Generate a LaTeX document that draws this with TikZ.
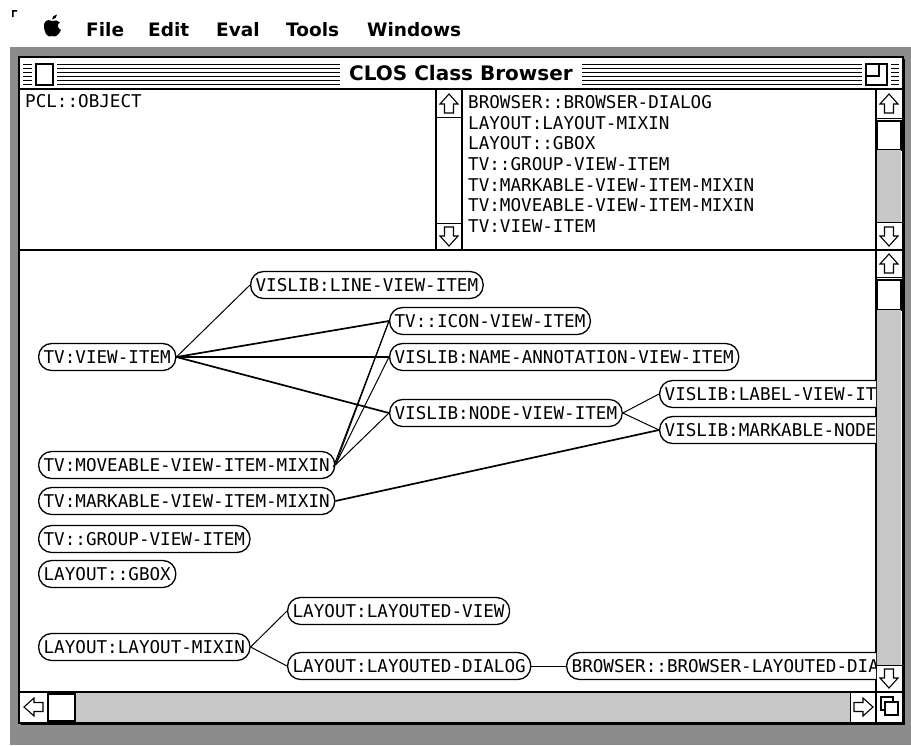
\documentclass[tikz,border=0pt]{standalone}
\usepackage{fontspec}
\setmonofont{DejaVu Sans Mono}
\newfontfamily\chicago{DejaVu Sans}
\usetikzlibrary{calc,positioning}

\definecolor{desk}{gray}{0.55}
\definecolor{sbar}{gray}{0.78}

\begin{document}
\begin{tikzpicture}[x=1pt,y=-1pt]
  \tikzset{cls/.style={draw, fill=white, line width=1.3pt,
      rounded corners=13pt, minimum height=27pt,
      inner xsep=5pt, inner ysep=0pt,
      font=\ttfamily\fontsize{17.6}{20}\selectfont},
    cut/.style={cls, text width=#1, align=left},
    lst/.style={inner sep=0pt, font=\ttfamily\fontsize{17.6}{20}\selectfont},
    menu/.style={inner sep=0pt, font=\chicago\bfseries\fontsize{18.5}{20}\selectfont},
    link/.style={line width=1pt},
    linkb/.style={line width=1.7pt},
    arrup/.pic={\draw[line width=1.1pt, fill=white, line join=miter]
        (0,-10) -- (9,0) -- (4.5,0) -- (4.5,9) -- (-4.5,9) -- (-4.5,0) -- (-9,0) -- cycle;}}
  \useasboundingbox (0,0) rectangle (911,745);

  % menu bar
  \fill (12,10) -- (17,10) -- (17,11.5) -- (14,11.5) -- (13.5,12.5) -- (13.5,17) -- (12,17) -- cycle;
  \fill (52,21) .. controls (47,18) and (43,22) .. (44,28) .. controls (45,34) and (48,38) .. (52,36)
    .. controls (56,38) and (59,34) .. (61,30) .. controls (57,28) and (57,24) .. (60,22.5)
    .. controls (58,20) and (55,20) .. (52,21) -- cycle;
  \fill (52,19.5) .. controls (52,17) and (54,15) .. (57,14.5) .. controls (57,17) and (55,19.5) .. (52,19.5) -- cycle;
  \node[menu, anchor=base west] (mfile) at (86,36) {File};
  \node[menu, anchor=base west] (medit) at (148,36) {Edit};
  \node[menu, anchor=base west] (meval) at (216,36) {Eval};
  \node[menu, anchor=base west] (mtools) at (286,36) {Tools};
  \node[menu, anchor=base west] (mwin) at (367,36) {Windows};

  % desktop and window
  \fill[desk] (10,47) rectangle (911,745);
  \fill (21,59) rectangle (905,725);
  \draw[fill=white, line width=1.5pt] (19,57) rectangle (903,723);

  % title bar
  \foreach \y in {64,68,...,84}
    \draw[line width=1pt] (23,\y) -- (899,\y);
  \fill[white] (32,61) rectangle (57,88);
  \draw[line width=1.3pt] (36,64) rectangle (53,85);
  \fill[white] (862,61) rectangle (891,88);
  \draw[line width=1.3pt] (866,64) rectangle (887,85);
  \draw[line width=1.3pt] (866,76) -- (879,76) -- (879,64);
  \node[fill=white, inner xsep=9pt, minimum height=26pt,
    font=\chicago\bfseries\fontsize{20}{22}\selectfont] (title) at (461,73) {CLOS Class Browser};
  \draw[line width=1.3pt] (19,89) -- (903,89);

  % upper panes
  \node[lst, anchor=west] (pclobj) at (25,101) {PCL::OBJECT};
  \draw[line width=1.3pt] (436,89) -- (436,250);
  \draw[line width=1.3pt] (462,89) -- (462,250);
  \draw (436,117) -- (462,117);
  \draw (436,223) -- (462,223);
  \pic at (449,104) {arrup};
  \pic[rotate=180] at (449,236) {arrup};
  \foreach \t [count=\i] in {BROWSER::BROWSER-DIALOG, LAYOUT:LAYOUT-MIXIN, LAYOUT::GBOX,
      TV::GROUP-VIEW-ITEM, TV:MARKABLE-VIEW-ITEM-MIXIN, TV:MOVEABLE-VIEW-ITEM-MIXIN, TV:VIEW-ITEM}
    \node[lst, anchor=west] (item\i) at (468,{81.3+20.7*\i}) {\t};
  \draw[line width=1.3pt] (876,89) -- (876,250);
  \draw (876,118) -- (902,118);
  \draw[line width=1.6pt, fill=white] (877,121) rectangle (901,150);
  \fill[sbar] (877,150) rectangle (901,222);
  \draw (876,222) -- (902,222);
  \pic at (889,104) {arrup};
  \pic[rotate=180] at (889,236) {arrup};
  \draw[line width=2pt] (19,250) -- (903,250);

  % scroll bars of the graph pane
  \draw[line width=1.3pt] (876,250) -- (876,722);
  \draw (876,277) -- (902,277);
  \draw[line width=1.6pt, fill=white] (877,280) rectangle (901,310);
  \fill[sbar] (877,310) rectangle (901,665);
  \draw (876,665) -- (902,665);
  \pic at (889,264) {arrup};
  \pic[rotate=180] at (889,678) {arrup};
  \draw[line width=1.3pt] (19,692) -- (903,692);
  \draw (47,692) -- (47,722);
  \draw[line width=1.6pt, fill=white] (48,694) rectangle (75,721);
  \fill[sbar] (76,693) rectangle (850,722);
  \draw (850,692) -- (850,722);
  \pic[rotate=90] at (34,707) {arrup};
  \pic[rotate=-90] at (863,707) {arrup};
  \draw[line width=1.2pt] (881,697) rectangle (893,710);
  \draw[line width=1.2pt, fill=white] (885,702) rectangle (898,715);

  % class graph
  \begin{scope}
    \clip (21,251) rectangle (876,692);
    \node[cls, anchor=west] (lineview) at (250,285) {VISLIB:LINE-VIEW-ITEM};
    \node[cls, anchor=west] (iconview) at (389,321) {TV::ICON-VIEW-ITEM};
    \node[cls, anchor=west] (viewitem) at (38,357) {TV:VIEW-ITEM};
    \node[cls, anchor=west] (nameann) at (389,357) {VISLIB:NAME-ANNOTATION-VIEW-ITEM};
    \node[cut=240pt, anchor=west] (labelview) at (659,394) {VISLIB:LABEL-VIEW-IT};
    \node[cls, anchor=west] (nodeview) at (389,413) {VISLIB:NODE-VIEW-ITEM};
    \node[cut=240pt, anchor=west] (markablenode) at (659,430) {VISLIB:MARKABLE-NODE};
    \node[cls, anchor=west] (moveable) at (38,465) {TV:MOVEABLE-VIEW-ITEM-MIXIN};
    \node[cls, anchor=west] (markable) at (38,501) {TV:MARKABLE-VIEW-ITEM-MIXIN};
    \node[cls, anchor=west] (groupview) at (38,539) {TV::GROUP-VIEW-ITEM};
    \node[cls, anchor=west] (gbox) at (38,574) {LAYOUT::GBOX};
    \node[cls, anchor=west] (layoutedview) at (287,611) {LAYOUT:LAYOUTED-VIEW};
    \node[cls, anchor=west] (layoutmixin) at (38,647) {LAYOUT:LAYOUT-MIXIN};
    \node[cls, anchor=west] (layoutedialog) at (287,666) {LAYOUT:LAYOUTED-DIALOG};
    \node[cut=330pt, anchor=west] (browserdialog) at (566,666) {BROWSER::BROWSER-LAYOUTED-DIA};

    \draw[link] (viewitem.east) -- (lineview.west);
    \draw[linkb] (viewitem.east) -- (iconview.west);
    \draw[linkb] (viewitem.east) -- (nameann.west);
    \draw[linkb] (viewitem.east) -- (nodeview.west);
    \draw[link] (moveable.east) -- (iconview.west);
    \draw[link] ($(moveable.east)+(-2,2)$) -- (iconview.west);
    \draw[link] (moveable.east) -- (nameann.west);
    \draw[link] (moveable.east) -- (nodeview.west);
    \draw[link] (nodeview.east) -- (labelview.west);
    \draw[link] (nodeview.east) -- (markablenode.west);
    \draw[linkb] (markable.east) -- (markablenode.west);
    \draw[link] (layoutmixin.east) -- (layoutedview.west);
    \draw[link] (layoutmixin.east) -- (layoutedialog.west);
    \draw[link] (layoutedialog.east) -- (browserdialog.west);
  \end{scope}
\end{tikzpicture}
\end{document}
